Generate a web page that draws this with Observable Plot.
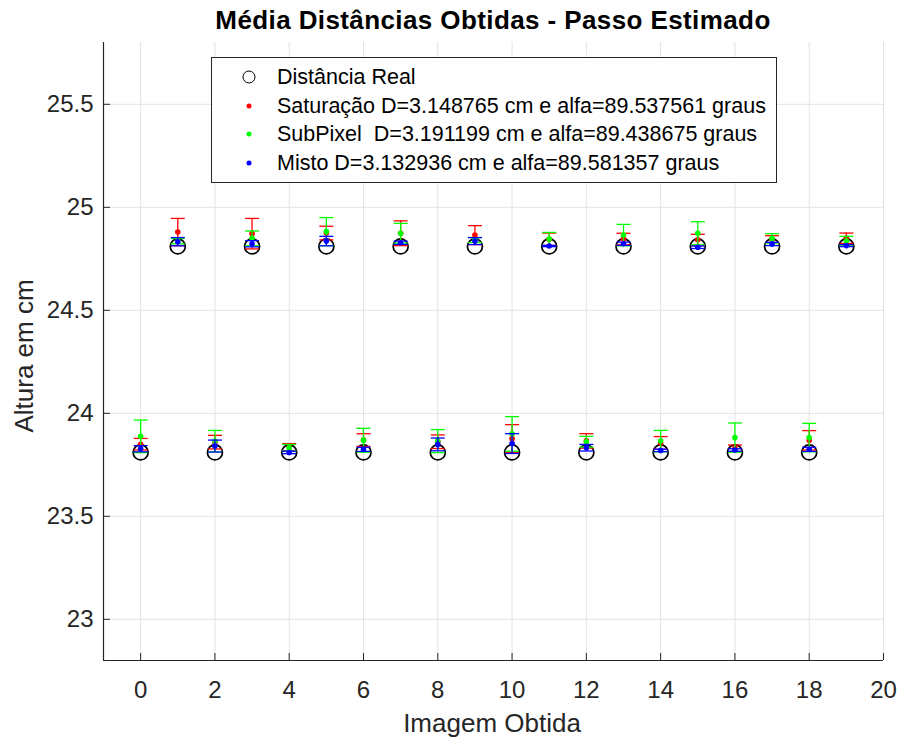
<!DOCTYPE html>
<html>
<head>
<meta charset="utf-8">
<script src="https://cdn.jsdelivr.net/npm/d3@7"></script>
<script src="https://cdn.jsdelivr.net/npm/@observablehq/plot@0.6"></script>
<style>
  body { margin: 0; background: #fff; font-family: "Liberation Sans", Arial, Helvetica, sans-serif; }
  #wrap { position: relative; width: 901px; height: 740px; overflow: hidden; }
  #title { height: 36px; position: relative; }
  #title span { position: absolute; left: 103px; width: 780px; top: 7px; line-height: 26px; text-align: center;
                font-weight: bold; font-size: 26px; letter-spacing: 0.4px; color: #000; white-space: nowrap; }
  .lab { position: absolute; font-size: 26px; line-height: 26px; color: #262626; white-space: nowrap;
         transform: translate(-50%, -50%); }
  #ylab { transform: translate(-50%, -50%) rotate(-90deg); }
  #legend { position: absolute; left: 211px; top: 57px; width: 564px; height: 124px; border: 1px solid #262626;
            background: #fff; font-size: 21.5px; color: #000; }
  #legend .row { position: absolute; left: 65px; line-height: 24px; transform: translateY(-50%); white-space: nowrap; }
  #legend .mk { position: absolute; left: 37px; border-radius: 50%; transform: translate(-50%, -50%); }
</style>
</head>
<body>
<div id="wrap">
  <div id="title"><span>Média Distâncias Obtidas - Passo Estimado</span></div>
  <div id="chart"></div>
  <div id="ylab" class="lab" style="left:24px; top:356px;">Altura em cm</div>
  <div id="xlab" class="lab" style="left:492px; top:723px;">Imagem Obtida</div>
  <div id="legend"></div>
</div>
<script>
// Image index (x) and measured heights (cm) for each method
const imagens = [0, 1, 2, 3, 4, 5, 6, 7, 8, 9, 10, 11, 12, 13, 14, 15, 16, 17, 18, 19];
const distanciaReal = [23.81, 24.81, 23.81, 24.81, 23.81, 24.81, 23.81, 24.81, 23.81, 24.81,
                       23.81, 24.81, 23.81, 24.81, 23.81, 24.81, 23.81, 24.81, 23.81, 24.81];

const saturacaoMedia = [23.850, 24.880, 23.860, 24.872, 23.836, 24.875, 23.870, 24.874, 23.862, 24.865,
                        23.877, 24.845, 23.866, 24.846, 23.856, 24.842, 23.830, 24.845, 23.869, 24.850];
const saturacaoErro  = [0.028, 0.066, 0.033, 0.074, 0.017, 0.033, 0.031, 0.060, 0.033, 0.046,
                        0.068, 0.030, 0.035, 0.028, 0.031, 0.027, 0.016, 0.017, 0.047, 0.025];

const subpixelMedia = [23.888, 24.836, 23.865, 24.849, 23.833, 24.882, 23.869, 24.874, 23.865, 24.841,
                       23.900, 24.846, 23.862, 24.865, 23.865, 24.874, 23.882, 24.849, 23.882, 24.836];
const subpixelErro  = [0.079, 0.013, 0.052, 0.036, 0.016, 0.068, 0.058, 0.048, 0.056, 0.012,
                       0.084, 0.032, 0.026, 0.052, 0.052, 0.056, 0.071, 0.023, 0.069, 0.023];

const mistoMedia = [23.828, 24.833, 23.841, 24.823, 23.810, 24.836, 23.825, 24.828, 23.849, 24.836,
                    23.853, 24.812, 23.833, 24.823, 23.820, 24.806, 23.822, 24.822, 23.825, 24.814];
const mistoErro  = [0.015, 0.020, 0.029, 0.015, 0.006, 0.023, 0.010, 0.008, 0.031, 0.017,
                    0.048, 0.003, 0.016, 0.008, 0.006, 0.006, 0.006, 0.008, 0.010, 0.005];

const xTicks = [0, 2, 4, 6, 8, 10, 12, 14, 16, 18, 20];
const yTicks = [23, 23.5, 24, 24.5, 25, 25.5];
const xDomain = [-1, 20];
const yDomain = [22.8, 25.8];

const legendLabels = [
  "Distância Real",
  "Saturação D=3.148765 cm e alfa=89.537561 graus",
  "SubPixel  D=3.191199 cm e alfa=89.438675 graus",
  "Misto D=3.132936 cm e alfa=89.581357 graus"
];

const series = [
  {nome: legendLabels[1], cor: "#ff0000", media: saturacaoMedia, erro: saturacaoErro},
  {nome: legendLabels[2], cor: "#00ff00", media: subpixelMedia, erro: subpixelErro},
  {nome: legendLabels[3], cor: "#0000ff", media: mistoMedia, erro: mistoErro}
];

const real = imagens.map((x, i) => ({x, y: distanciaReal[i]}));

// horizontal cap drawn as a dot symbol (half width = r)
const capSymbol = {
  draw(ctx, size) {
    const w = Math.sqrt(size / Math.PI);
    ctx.moveTo(-w, 0);
    ctx.lineTo(w, 0);
  }
};

const axisColor = "#262626";
const gridColor = "#e3e3e3";

const marks = [
  Plot.gridX(xTicks, {stroke: gridColor, strokeOpacity: 1}),
  Plot.gridY(yTicks, {stroke: gridColor, strokeOpacity: 1}),
  Plot.dot(real, {x: "x", y: "y", r: 7.5, stroke: "#000", strokeWidth: 1.7, fill: "none"})
];

for (const s of series) {
  const rows = imagens.map((x, i) => ({
    x, y: s.media[i], lo: s.media[i] - s.erro[i], hi: s.media[i] + s.erro[i]
  }));
  marks.push(
    Plot.ruleX(rows, {x: "x", y1: "lo", y2: "hi", stroke: s.cor, strokeWidth: 1.3}),
    Plot.dot(rows, {x: "x", y: "hi", symbol: capSymbol, r: 7, stroke: s.cor, strokeWidth: 1.3, fill: "none"}),
    Plot.dot(rows, {x: "x", y: "lo", symbol: capSymbol, r: 7, stroke: s.cor, strokeWidth: 1.3, fill: "none"}),
    Plot.dot(rows, {x: "x", y: "y", r: 2.8, fill: s.cor, stroke: "none"})
  );
}

marks.push(
  Plot.ruleX([xDomain[0]], {stroke: axisColor, strokeWidth: 1.2}),
  Plot.ruleY([yDomain[0]], {stroke: axisColor, strokeWidth: 1.2}),
  Plot.axisX(xTicks, {tickSize: -7, tickPadding: 27, label: null, stroke: axisColor, fill: axisColor,
                      fontSize: 24}),
  Plot.axisY(yTicks, {tickSize: -7, tickPadding: 17, label: null, stroke: axisColor, fill: axisColor,
                      fontSize: 24, tickFormat: d3.format("~f")})
);

const chart = Plot.plot({
  width: 901,
  height: 704,
  marginTop: 6,
  marginBottom: 80,
  marginLeft: 103,
  marginRight: 18,
  style: {fontFamily: '"Liberation Sans", Arial, Helvetica, sans-serif', fontSize: "24px", background: "#fff"},
  x: {domain: xDomain},
  y: {domain: yDomain},
  marks
});
document.getElementById("chart").appendChild(chart);

// legend box
const legend = document.getElementById("legend");
const rowY = [19, 48, 76, 105];
legendLabels.forEach((txt, i) => {
  const mk = document.createElement("span");
  mk.className = "mk";
  mk.style.top = rowY[i] + "px";
  if (i === 0) {
    mk.style.width = "11px"; mk.style.height = "11px";
    mk.style.border = "1.7px solid #000";
  } else {
    mk.style.width = "5px"; mk.style.height = "5px";
    mk.style.background = series[i - 1].cor;
  }
  legend.appendChild(mk);
  const row = document.createElement("div");
  row.className = "row";
  row.style.top = rowY[i] + "px";
  row.textContent = txt.replace("  ", "\u00a0 ");
  legend.appendChild(row);
});
</script>
</body>
</html>
